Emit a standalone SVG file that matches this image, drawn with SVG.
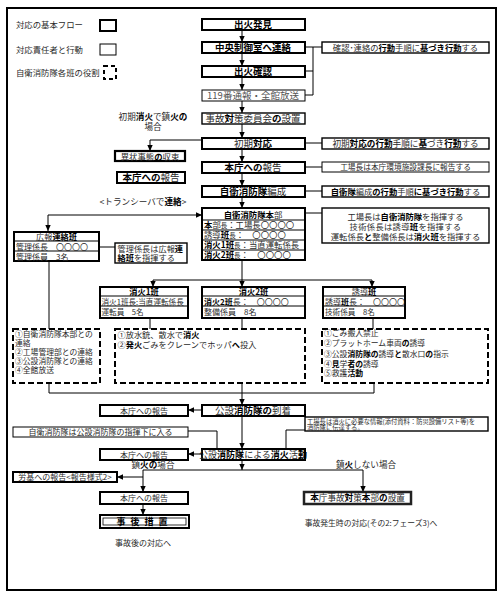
<svg xmlns="http://www.w3.org/2000/svg" width="503" height="598" viewBox="0 0 503 598">
<style>
text{font-family:"Noto Sans CJK JP","Noto Sans",sans-serif;fill:#2a2a2a}
.m{font-size:9.5px;text-anchor:middle}
.s{font-size:8.4px;text-anchor:middle}
.l{font-size:8.4px}
.b{font-weight:bold;fill:#000}
.k{fill:#fff;stroke:#000;stroke-width:2}
.t{fill:#fff;stroke:#000;stroke-width:1}
.md{fill:#fff;stroke:#000;stroke-width:1.4}
.d{fill:#fff;stroke:#000;stroke-width:2;stroke-dasharray:6 3}
.c{fill:none;stroke:#000;stroke-width:1}
.a{fill:none;stroke:#000;stroke-width:1;marker-end:url(#ah)}
</style>
<defs>
<marker id="ah" viewBox="0 0 6 6" refX="6" refY="3" markerWidth="6" markerHeight="6" orient="auto" markerUnits="userSpaceOnUse"><path d="M0,0.3 L6,3 L0,5.7 z" fill="#000"/></marker>
</defs>
<rect x="0" y="0" width="503" height="598" fill="#fff"/>
<rect x="7" y="8" width="489" height="582" fill="none" stroke="#000" stroke-width="2"/>

<g id="legend">
<text x="16" y="28" class="l">対応の基本フロー</text>
<rect x="100" y="20" width="16" height="11" class="k"/>
<text x="16" y="53" class="l">対応責任者と行動</text>
<rect x="100" y="44" width="16" height="11" class="t"/>
<text x="16" y="76" class="l">自衛消防隊各班の役割</text>
<rect x="104" y="66" width="12" height="13" fill="#fff" stroke="#000" stroke-width="2" stroke-dasharray="4 3"/>
</g>

<g id="connectors">
<path class="a" d="M242,30 V42"/>
<path class="a" d="M242,53 V66"/>
<path class="a" d="M242,77 V90"/>
<path class="a" d="M242,101 V113"/>
<path class="a" d="M242,124 V138"/>
<path class="a" d="M242,149 V162"/>
<path class="a" d="M242,173 V186"/>
<path class="a" d="M242,197 V208"/>
<path class="c" d="M305,47 H322 M313,47 V95 M305,71 H313 M305,95 H313"/>
<path class="c" d="M305,143 H322 M305,167 H322 M305,191 H322 M305,213 H322"/>
<path class="a" d="M202,140 H150 V151"/>
<path class="a" d="M48,215 H202"/>
<path class="a" d="M48,215 V231"/>
<path class="c" d="M99,247 H115"/>
<path class="a" d="M242,260 V287"/>
<path class="c" d="M153,280 H372"/>
<path class="a" d="M153,280 V287"/>
<path class="a" d="M372,280 V287"/>
<path class="c" d="M49,261 V329 M150,318 V329 M242,318 V329 M373,318 V329"/>
<path class="c" d="M49,383 V393 H374 V383"/>
<path class="a" d="M242,383 V405"/>
<path class="a" d="M202,410 H188"/>
<path class="c" d="M305,430 H286 V449"/>
<path class="c" d="M188,431 H217 V449"/>
<path class="a" d="M242,416 V449"/>
<path class="a" d="M202,454 H188"/>
<path class="a" d="M242,460 V470"/>
<path class="c" d="M143,470 H363"/>
<path class="a" d="M143,470 V492"/>
<path class="a" d="M143,477 H117"/>
<path class="a" d="M363,470 V492"/>
<path class="a" d="M143,504 V515"/>
</g>

<g id="n-hakken"><rect x="202" y="19" width="103" height="11" class="k"/><text x="253" y="28" class="m b">出火発見</text></g>
<g id="n-renraku"><rect x="202" y="42" width="103" height="11" class="k"/><text x="253" y="51" class="m b">中央制御室へ連絡</text></g>
<g id="n-kakunin"><rect x="202" y="66" width="103" height="11" class="k"/><text x="253" y="75" class="m b">出火確認</text></g>
<g id="n-119"><rect x="202" y="90" width="103" height="11" class="t"/><text x="253" y="99" class="m" style="fill:#555">119番通報・全館放送</text></g>
<g id="n-iinkai"><rect x="202" y="113" width="103" height="11" class="md"/><text x="253" y="122" class="m">事故<tspan class="b">対</tspan>策委員会<tspan class="b">の</tspan>設置</text></g>
<g id="n-shoki"><rect x="202" y="138" width="103" height="11" class="k"/><text x="253" y="147" class="m">初期<tspan class="b">対応</tspan></text></g>
<g id="n-hokoku1"><rect x="202" y="162" width="103" height="11" class="k"/><text x="253" y="171" class="m"><tspan class="b">本庁への</tspan>報告</text></g>
<g id="n-hensei"><rect x="202" y="186" width="103" height="11" class="k"/><text x="253" y="195" class="m"><tspan class="b">自衛消防隊</tspan>編成</text></g>

<g id="n-honbu">
<rect x="202" y="208" width="103" height="52" class="k"/>
<path class="c" d="M202,220 H305 M202,230 H305 M202,240 H305 M202,250 H305"/>
<text x="253" y="217.5" class="s"><tspan class="b">自衛消防隊本</tspan>部</text>
<text x="204" y="228" class="l" style="font-size:8.4px"><tspan class="b">本</tspan>部<tspan style="font-size:6.5px">長</tspan>：工場長〇〇〇〇</text>
<text x="204" y="238" class="l" style="font-size:8.4px">誘導<tspan class="b">班</tspan><tspan style="font-size:6.5px">長</tspan>：　〇〇〇〇</text>
<text x="204" y="248" class="l" style="font-size:8.4px"><tspan class="b">消火1班</tspan><tspan style="font-size:6.5px">長</tspan>：当直運転係長</text>
<text x="204" y="258" class="l" style="font-size:8.4px"><tspan class="b">消火2班</tspan><tspan style="font-size:6.5px">長</tspan>：　〇〇〇〇</text>
</g>

<g id="r-kakunin"><rect x="322" y="42" width="167" height="11" class="md"/><text x="405.5" y="50.5" class="s" style="font-size:8.3px">確認･連絡の<tspan class="b">行動</tspan>手順に<tspan class="b">基づき</tspan><tspan class="b">行動</tspan>する</text></g>
<g id="r-shoki"><rect x="322" y="138" width="167" height="11" class="md"/><text x="405.5" y="146.5" class="s" style="font-size:8.6px">初期<tspan class="b">対応の行動</tspan>手順に<tspan class="b">基</tspan>づき<tspan class="b">行動</tspan>する</text></g>
<g id="r-hokoku"><rect x="322" y="162" width="167" height="10" class="t"/><text x="405.5" y="170" class="s" style="font-size:7.7px">工場長は本庁環境施設課長に報告する</text></g>
<g id="r-hensei"><rect x="322" y="186" width="167" height="11" class="md"/><text x="405.5" y="194.5" class="s" style="font-size:8.3px"><tspan class="b">自衛隊</tspan>編成<tspan class="b">の行動</tspan>手順<tspan class="b">に基づき行動</tspan>する</text></g>
<g id="r-shiki">
<rect x="322" y="208" width="167" height="35" class="md"/>
<text x="405.5" y="220" class="s" style="font-size:8.3px">工場長は<tspan class="b">自衛消防隊</tspan>を指揮する</text>
<text x="405.5" y="230" class="s" style="font-size:8.3px;letter-spacing:0.3px">技術係長は誘導<tspan class="b">班</tspan>を指揮する</text>
<text x="405.5" y="240" class="s" style="font-size:8.3px">運転係長<tspan class="b">と</tspan>整備係長は<tspan class="b">消火班</tspan>を指揮する</text>
</g>

<g id="t-shoki-chinka"><text x="153" y="120" class="s" style="font-size:8.6px">初期<tspan class="b">消火</tspan>で鎮<tspan class="b">火の</tspan></text><text x="153" y="130" class="s" style="font-size:8.6px">場合</text></g>
<g id="n-shusoku"><rect x="115" y="151" width="70" height="10" fill="#fff" stroke="#000" stroke-width="2.2"/><text x="150" y="159.5" class="s">異状事態<tspan class="b">の</tspan>収束</text></g>
<g id="n-hokoku2"><rect x="117" y="172" width="68" height="11" class="k"/><text x="151" y="181" class="m"><tspan class="b">本庁への</tspan>報告</text></g>
<text id="t-transceiver" x="143" y="205" class="s" style="font-size:8.6px">&lt;トランシーバで<tspan class="b">連絡</tspan>&gt;</text>

<g id="n-koho">
<rect x="14" y="232" width="85" height="29" class="k"/>
<path class="c" d="M14,241 H99 M14,251 H99"/>
<text x="56.5" y="239.8" class="s" style="font-size:8.2px">広報<tspan class="b">連絡班</tspan></text>
<text x="16" y="249.5" class="l" style="font-size:8px">管理係長　〇〇〇〇</text>
<text x="16" y="259.5" class="l" style="font-size:8px">管理係員　3名</text>
</g>
<g id="r-koho"><rect x="115" y="243" width="72" height="20" class="md"/><text x="117.5" y="252" class="l" style="font-size:8.2px">管理係長は広報<tspan class="b">連</tspan></text><text x="117.5" y="261" class="l" style="font-size:8.2px"><tspan class="b">絡班</tspan>を指揮する</text></g>

<g id="n-shoka1">
<rect x="100" y="287" width="88" height="31" class="k"/>
<path class="c" d="M100,296 H188 M100,306 H188"/>
<text x="144" y="294.8" class="s" style="font-size:8.2px"><tspan class="b">消火1班</tspan></text>
<text x="101.5" y="304.5" class="l" style="font-size:7.6px">消火1班長:当直運転係長</text>
<text x="101.5" y="315" class="l" style="font-size:7.6px">運転員　5名</text>
</g>
<g id="n-shoka2">
<rect x="202" y="287" width="103" height="31" class="k"/>
<path class="c" d="M202,296 H305 M202,306 H305"/>
<text x="253.5" y="294.8" class="s" style="font-size:8.2px"><tspan class="b">消火2班</tspan></text>
<text x="204" y="304.5" class="l" style="font-size:8px"><tspan class="b">消火2班</tspan>長：　〇〇〇〇</text>
<text x="204" y="315" class="l" style="font-size:8px">整備係員　8名</text>
</g>
<g id="n-yudo">
<rect x="323" y="287" width="82" height="31" class="k"/>
<path class="c" d="M323,296 H405 M323,306 H405"/>
<text x="364" y="294.8" class="s" style="font-size:8.2px">誘導<tspan class="b">班</tspan></text>
<text x="325" y="304.5" class="l" style="font-size:8px">誘導<tspan class="b">班</tspan>長：　〇〇〇〇</text>
<text x="325" y="315" class="l" style="font-size:7.6px">技術係員　8名</text>
</g>

<g id="role-koho">
<rect x="13" y="329" width="87" height="54" class="d"/>
<text x="15" y="336.5" class="l" style="font-size:7.8px">①自衛消防隊本部との</text>
<text x="15" y="345.5" class="l" style="font-size:7.8px">連絡</text>
<text x="15" y="355" class="l" style="font-size:7.8px">②工場管理部との連絡</text>
<text x="15" y="364" class="l" style="font-size:7.8px">③公設消防隊との連絡</text>
<text x="15" y="373" class="l" style="font-size:7.8px">④全館放送</text>
</g>
<g id="role-shoka">
<rect x="115" y="329" width="190" height="54" class="d"/>
<text x="117.5" y="337.5" class="l" style="font-size:8.2px">①放水銃、散水で<tspan class="b">消火</tspan></text>
<text x="117.5" y="347.5" class="l" style="font-size:8.2px">②<tspan class="b">発火</tspan>ごみをクレーンでホッパ<tspan class="b">へ</tspan>投入</text>
</g>
<g id="role-yudo">
<rect x="322" y="329" width="166" height="54" class="d"/>
<text x="324" y="336" class="l" style="font-size:7.8px">①ごみ搬入禁止</text>
<text x="324" y="346" class="l" style="font-size:7.8px">②プラットホーム車両<tspan class="b">の</tspan>誘導</text>
<text x="324" y="356.5" class="l" style="font-size:7.8px">③公設<tspan class="b">消防隊の</tspan>誘導<tspan class="b">と</tspan>散水口<tspan class="b">の</tspan>指示</text>
<text x="324" y="366.5" class="l" style="font-size:7.8px">④<tspan class="b">見</tspan>学<tspan class="b">者の</tspan>誘導</text>
<text x="324" y="376" class="l" style="font-size:7.8px">⑤救護<tspan class="b">活動</tspan></text>
</g>

<g id="n-tochaku"><rect x="202" y="405" width="103" height="11" class="k"/><text x="253" y="414" class="m">公設<tspan class="b">消防隊の</tspan>到着</text></g>
<g id="n-hokoku3"><rect x="100" y="405" width="88" height="11" class="k"/><text x="144" y="413.5" class="s" style="font-size:8px">本庁への報告</text></g>
<g id="r-joho"><rect x="305" y="417" width="183" height="14" class="md"/><text x="307" y="423.5" class="l" style="font-size:6.3px">工場長は消火に必要な情報(添付資料：防災設備リスト等)を</text><text x="307" y="430" class="l" style="font-size:6.3px">消防隊に伝達する。</text></g>
<g id="r-shiki2"><rect x="13" y="427" width="175" height="10" class="t"/><text x="100.5" y="435" class="s" style="font-size:8px">自衛消防隊は公設消防隊の指揮下に入る</text></g>
<g id="n-katsudo"><rect x="202" y="449" width="103" height="11" class="k"/><text x="253" y="458" class="m" style="font-size:9px">公設<tspan class="b">消防隊</tspan>による<tspan class="b">消火</tspan>活<tspan class="b">動</tspan></text></g>
<g id="n-hokoku4"><rect x="100" y="449" width="88" height="11" class="k"/><text x="144" y="457.5" class="s" style="font-size:8px">本庁への報告</text></g>
<text id="t-chinka" x="153" y="467.5" class="s" style="font-size:8.6px">鎮<tspan class="b">火の</tspan>場合</text>
<text id="t-fuchinka" x="366" y="467.5" class="s" style="font-size:8.6px">鎮<tspan class="b">火</tspan>しない場合</text>
<g id="n-roki"><rect x="13" y="472" width="104" height="10" class="k"/><text x="65" y="480" class="s" style="font-size:8px">労基への報告&lt;報告様式2&gt;</text></g>
<g id="n-hokoku5"><rect x="100" y="492" width="88" height="12" class="k"/><text x="144" y="501" class="s" style="font-size:8px">本庁への報告</text></g>
<g id="n-taisaku"><rect x="304" y="492" width="107" height="12" fill="#fff" stroke="#222" stroke-width="2.5"/><text x="357.5" y="501.3" class="s" style="font-size:8.6px"><tspan class="b">本</tspan>庁事故<tspan class="b">対</tspan>策<tspan class="b">本</tspan>部<tspan class="b">の</tspan>設置</text></g>
<text id="t-phase3" x="371" y="526" class="s" style="font-size:7.8px">事故発生時の対応(その2:フェーズ3)へ</text>
<g id="n-jigo"><rect x="100" y="515" width="89" height="13" fill="#fff" stroke="#000" stroke-width="2"/><rect x="103" y="518" width="83" height="7" fill="none" stroke="#000" stroke-width="0.8"/><text x="144.5" y="525.3" class="s b" style="font-size:9px;letter-spacing:5px">事後措置</text></g>
<text id="t-jigo" x="143" y="546" class="s" style="font-size:8px">事故後の対応へ</text>
</svg>
